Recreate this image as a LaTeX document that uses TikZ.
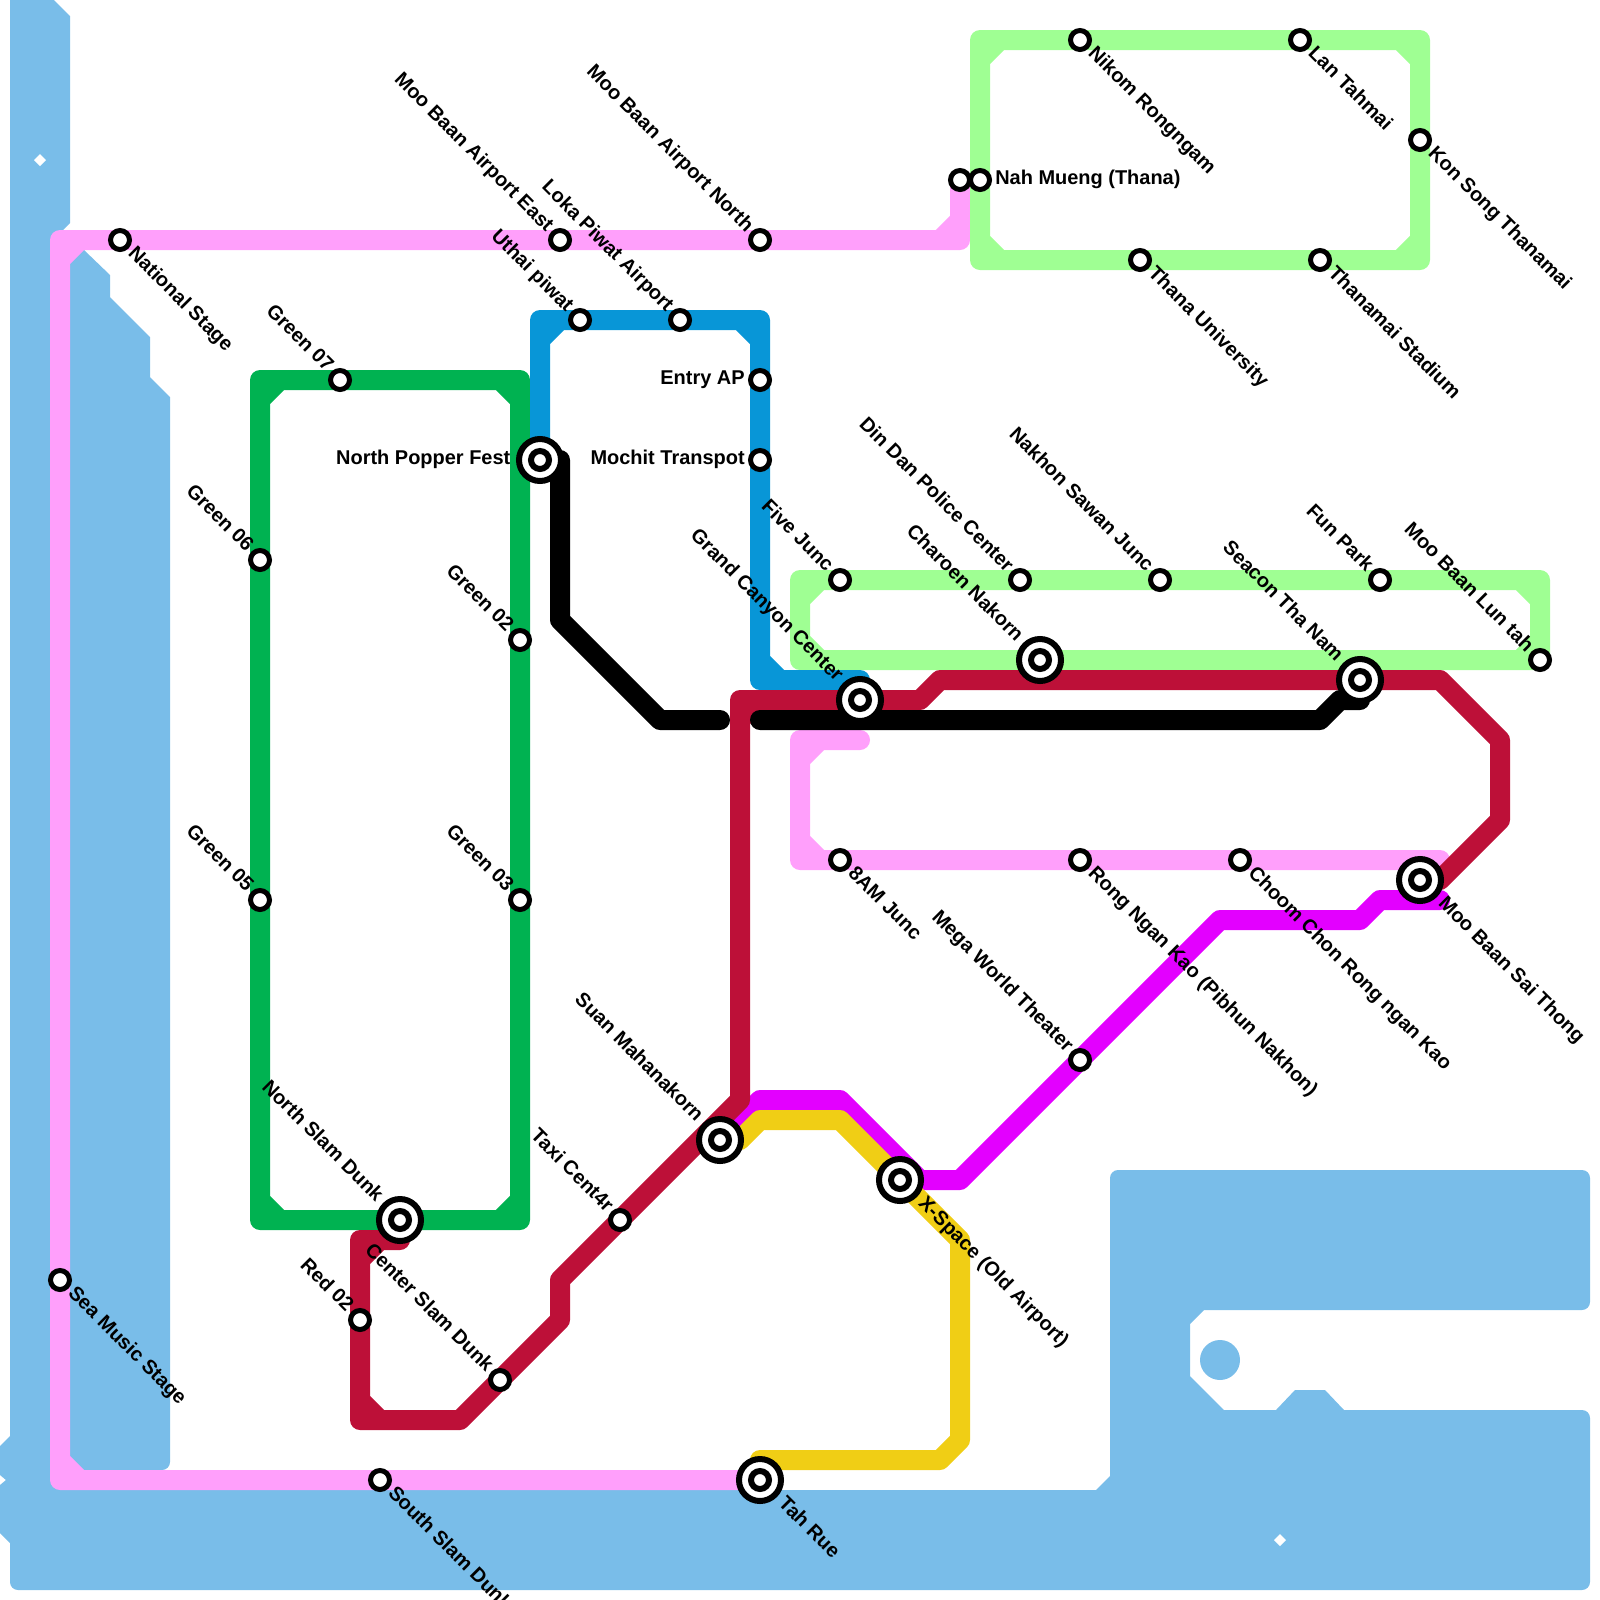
\documentclass[tikz,border=0pt]{standalone}
\usepackage{fontspec}
\setmainfont{Liberation Sans}
\definecolor{metrowater}{HTML}{79BDE9}
\definecolor{metropink}{HTML}{FF9FFB}
\definecolor{metrolime}{HTML}{9FFF93}
\definecolor{metrogreen}{HTML}{00B251}
\definecolor{metroblue}{HTML}{0896D7}
\definecolor{metrored}{HTML}{BD1038}
\definecolor{metroyellow}{HTML}{F0CE15}
\definecolor{metromagenta}{HTML}{E300FF}
\begin{document}
\begin{tikzpicture}[
    x=0.5cm, y=-0.5cm,
    every node/.style={font=\bfseries\fontsize{14.2}{16}\selectfont},
    ln/.style={line width=5mm, line cap=round, line join=round},
    water/.style={fill=metrowater},
    soft/.style={rounded corners=2mm},
    stn/.style={circle, draw=black, fill=white, line width=1.25mm, inner sep=0pt, minimum size=4.75mm},
    hub/.style={circle, draw=black, fill=white, line width=1.5mm, inner sep=0pt, outer sep=1.35mm, minimum size=10.5mm},
    core/.style={stn, line width=1.5mm, minimum size=4.5mm},
    lbl/.style={inner xsep=0.75mm, inner ysep=0pt, text height=.9em, text depth=.2em},
    lble/.style={lbl, anchor=west},
    lblw/.style={lbl, anchor=east},
    lblse/.style={lbl, anchor=west, rotate=-45},
    lblnw/.style={lbl, anchor=east, rotate=-45},
  ]

  \clip (0,0) rectangle (80,80);

  \coordinate (NAT) at (6,12);
  \coordinate (SEA) at (3,64);
  \coordinate (SSD) at (19,74);
  \coordinate (TAH) at (38,74);
  \coordinate (G07) at (17,19);
  \coordinate (G06) at (13,28);
  \coordinate (G05) at (13,45);
  \coordinate (G02) at (26,32);
  \coordinate (G03) at (26,45);
  \coordinate (NPF) at (27,23);
  \coordinate (NSD) at (20,61);
  \coordinate (R02) at (18,66);
  \coordinate (CSD) at (25,69);
  \coordinate (TAX) at (31,61);
  \coordinate (SUA) at (36,57);
  \coordinate (XSP) at (45,59);
  \coordinate (MEG) at (54,53);
  \coordinate (SAI) at (71,44);
  \coordinate (CHO) at (62,43);
  \coordinate (RON) at (54,43);
  \coordinate (EAM) at (42,43);
  \coordinate (GCC) at (43,35);
  \coordinate (FIV) at (42,29);
  \coordinate (CHA) at (52,33);
  \coordinate (DIN) at (51,29);
  \coordinate (NAK) at (58,29);
  \coordinate (SEC) at (68,34);
  \coordinate (FUN) at (69,29);
  \coordinate (LUN) at (77,33);
  \coordinate (NMP) at (48,9);
  \coordinate (NMU) at (49,9);
  \coordinate (NIK) at (54,2);
  \coordinate (LAN) at (65,2);
  \coordinate (KON) at (71,7);
  \coordinate (THS) at (66,13);
  \coordinate (THU) at (57,13);
  \coordinate (MAE) at (28,12);
  \coordinate (MAN) at (38,12);
  \coordinate (UTH) at (29,16);
  \coordinate (LOK) at (34,16);
  \coordinate (ENT) at (38,19);
  \coordinate (MOC) at (38,23);

  \path[water] (0.5,0) -- (2.7,0) -- (3.5,0.8) -- (3.5,11.15) -- (3.15,11.5) -- (3.15,12.3) -- (4.2,12.5)
    -- (5.5,13.75) -- (5.5,14.85) -- (7.5,16.85) -- (7.5,18.85) -- (8.5,19.85)
    [soft] -- (8.5,73.5) [sharp corners] -- (3,73.5) -- (3,74.5) -- (54.8,74.5) -- (55.5,73.8)
    [soft] -- (55.5,58.5) -- (79.5,58.5) -- (79.5,65.5) [sharp corners] -- (60.2,65.5)
    -- (59.5,66.2) -- (59.5,68.8) -- (61.2,70.5) -- (63.8,70.5) -- (64.75,69.5) -- (66.25,69.5)
    -- (67.2,70.5) [soft] -- (79.5,70.5) -- (79.5,79.5) -- (0.5,79.5) [sharp corners] -- (0.5,77.15)
    -- (0,76.65) -- (0,74.25) -- (0.3,74) -- (0,73.75) -- (0,72.3) -- (0.5,71.8) -- cycle;
  \fill[metrowater] (61,68) circle (1);
  \fill[white] (2,7.7) -- (2.3,8) -- (2,8.3) -- (1.7,8) -- cycle;
  \fill[white] (64,76.7) -- (64.3,77) -- (64,77.3) -- (63.7,77) -- cycle;

  \draw[ln, metropink] (NMP) -- (48,12) -- (MAN) -- (MAE) -- (NAT) -- (3,12) -- (SEA) -- (3,74) -- (SSD) -- (TAH)
    (47,12) -- (48,11) (3,13) -- (4,12) (3,73) -- (4,74);
  \draw[ln, metropink] (43,37) -- (40,37) -- (40,43) -- (EAM) -- (RON) -- (CHO) -- (72,43)
    (40,38) -- (41,37) (40,42) -- (41,43);
  \draw[ln, metrolime] (49,2) -- (NIK) -- (LAN) -- (71,2) -- (KON) -- (71,13) -- (THS) -- (THU) -- (49,13) -- cycle
    (49,3) -- (50,2) (70,2) -- (71,3) (71,12) -- (70,13) (50,13) -- (49,12);
  \draw[ln, metrolime] (40,29) -- (FIV) -- (DIN) -- (NAK) -- (FUN) -- (77,29) -- (LUN) -- (CHA) -- (40,33) -- cycle
    (40,30) -- (41,29) (76,29) -- (77,30) (77,32) -- (76,33) (41,33) -- (40,32);
  \draw[ln, metrogreen] (13,19) -- (G07) -- (26,19) -- (G02) -- (G03) -- (26,61) -- (NSD) -- (13,61) -- (G05) -- (G06) -- cycle
    (13,20) -- (14,19) (25,19) -- (26,20) (26,60) -- (25,61) (14,61) -- (13,60);
  \draw[ln, metroblue] (NPF) -- (27,16) -- (UTH) -- (LOK) -- (38,16) -- (ENT) -- (MOC) -- (38,34) -- (43,34)
    (27,17) -- (28,16) (37,16) -- (38,17) (38,33) -- (39,34);
  \draw[ln, metromagenta] (SUA) -- (38,55) -- (42,55) -- (46,59) -- (48,59) -- (MEG) -- (61,46) -- (68,46)
    -- (69,45) -- (72,45);
  \draw[ln, metroyellow] (SUA) -- (37,57) -- (38,56) -- (42,56) -- (XSP) -- (48,62) -- (48,72) -- (47,73) -- (38,73);
  \draw[ln, metrored] (20,62) -- (18,62) -- (R02) -- (18,71) -- (23,71) -- (CSD) -- (28,66) -- (28,64) -- (TAX)
    -- (37,55) -- (37,35) -- (GCC) -- (46,35) -- (47,34) -- (SEC) -- (72,34) -- (75,37) -- (75,41)
    -- (72,44) -- (SAI)
    (18,63) -- (19,62) (18,70) -- (19,71) (37,36) -- (38,35);
  \draw[ln, black] (28,23) -- (28,31) -- (33,36) -- (36,36);
  \draw[ln, black] (38,36) -- (66,36) -- (67,35) -- (68,35);

  \node[stn] (NATn) at (NAT) {};
  \node[lblse] (NATl) at (NATn.-45) {National Stage};
  \node[stn] (SEAn) at (SEA) {};
  \node[lblse] (SEAl) at (SEAn.-45) {Sea Music Stage};
  \node[stn] (SSDn) at (SSD) {};
  \node[lblse] (SSDl) at (SSDn.-45) {South Slam Dunk};
  \node[hub] (TAHn) at (TAH) {};
  \node[core] (TAHi) at (TAH) {};
  \node[lblse] (TAHl) at (TAHn.-45) {Tah Rue};

  \node[stn] (G07n) at (G07) {};
  \node[lblnw] (G07l) at (G07n.135) {Green 07};
  \node[stn] (G06n) at (G06) {};
  \node[lblnw] (G06l) at (G06n.135) {Green 06};
  \node[stn] (G05n) at (G05) {};
  \node[lblnw] (G05l) at (G05n.135) {Green 05};
  \node[stn] (G02n) at (G02) {};
  \node[lblnw] (G02l) at (G02n.135) {Green 02};
  \node[stn] (G03n) at (G03) {};
  \node[lblnw] (G03l) at (G03n.135) {Green 03};

  \node[hub] (NPFn) at (NPF) {};
  \node[core] (NPFi) at (NPF) {};
  \node[lblw] (NPFl) at (NPFn.west) {North Popper Fest};
  \node[hub] (NSDn) at (NSD) {};
  \node[core] (NSDi) at (NSD) {};
  \node[lblnw] (NSDl) at (NSDn.135) {North Slam Dunk};
  \node[stn] (R02n) at (R02) {};
  \node[lblnw] (R02l) at (R02n.135) {Red 02};
  \node[stn] (CSDn) at (CSD) {};
  \node[lblnw] (CSDl) at (CSDn.135) {Center Slam Dunk};
  \node[stn] (TAXn) at (TAX) {};
  \node[lblnw] (TAXl) at (TAXn.135) {Taxi Cent4r};
  \node[hub] (SUAn) at (SUA) {};
  \node[core] (SUAi) at (SUA) {};
  \node[lblnw] (SUAl) at (SUAn.135) {Suan Mahanakorn};
  \node[hub] (XSPn) at (XSP) {};
  \node[core] (XSPi) at (XSP) {};
  \node[lblse] (XSPl) at (XSPn.-45) {X-Space (Old Airport)};
  \node[stn] (MEGn) at (MEG) {};
  \node[lblnw] (MEGl) at (MEGn.135) {Mega World Theater};

  \node[hub] (SAIn) at (SAI) {};
  \node[core] (SAIi) at (SAI) {};
  \node[lblse] (SAIl) at (SAIn.-45) {Moo Baan Sai Thong};
  \node[stn] (CHOn) at (CHO) {};
  \node[lblse] (CHOl) at (CHOn.-45) {Choom Chon Rong ngan Kao};
  \node[stn] (RONn) at (RON) {};
  \node[lblse] (RONl) at (RONn.-45) {Rong Ngan Kao (Pibhun Nakhon)};
  \node[stn] (EAMn) at (EAM) {};
  \node[lblse] (EAMl) at (EAMn.-45) {8AM Junc};

  \node[hub] (GCCn) at (GCC) {};
  \node[core] (GCCi) at (GCC) {};
  \node[lblnw] (GCCl) at (GCCn.135) {Grand Canyon Center};
  \node[stn] (FIVn) at (FIV) {};
  \node[lblnw] (FIVl) at (FIVn.135) {Five Junc};
  \node[hub] (CHAn) at (CHA) {};
  \node[core] (CHAi) at (CHA) {};
  \node[lblnw] (CHAl) at (CHAn.135) {Charoen Nakorn};
  \node[stn] (DINn) at (DIN) {};
  \node[lblnw] (DINl) at (DINn.135) {Din Dan Police Center};
  \node[stn] (NAKn) at (NAK) {};
  \node[lblnw] (NAKl) at (NAKn.135) {Nakhon Sawan Junc};
  \node[hub] (SECn) at (SEC) {};
  \node[core] (SECi) at (SEC) {};
  \node[lblnw] (SECl) at (SECn.135) {Seacon Tha Nam};
  \node[stn] (FUNn) at (FUN) {};
  \node[lblnw] (FUNl) at (FUNn.135) {Fun Park};
  \node[stn] (LUNn) at (LUN) {};
  \node[lblnw] (LUNl) at (LUNn.135) {Moo Baan Lun tah};

  \node[stn] (NMPn) at (NMP) {};
  \node[stn] (NMUn) at (NMU) {};
  \node[lble] (NMUl) at (NMUn.east) {Nah Mueng (Thana)};
  \node[stn] (NIKn) at (NIK) {};
  \node[lblse] (NIKl) at (NIKn.-45) {Nikom Rongngam};
  \node[stn] (LANn) at (LAN) {};
  \node[lblse] (LANl) at (LANn.-45) {Lan Tahmai};
  \node[stn] (KONn) at (KON) {};
  \node[lblse] (KONl) at (KONn.-45) {Kon Song Thanamai};
  \node[stn] (THSn) at (THS) {};
  \node[lblse] (THSl) at (THSn.-45) {Thanamai Stadium};
  \node[stn] (THUn) at (THU) {};
  \node[lblse] (THUl) at (THUn.-45) {Thana University};

  \node[stn] (MAEn) at (MAE) {};
  \node[lblnw] (MAEl) at (MAEn.135) {Moo Baan Airport East};
  \node[stn] (MANn) at (MAN) {};
  \node[lblnw] (MANl) at (MANn.135) {Moo Baan Airport North};
  \node[stn] (UTHn) at (UTH) {};
  \node[lblnw] (UTHl) at (UTHn.135) {Uthai piwat};
  \node[stn] (LOKn) at (LOK) {};
  \node[lblnw] (LOKl) at (LOKn.135) {Loka Piwat Airport};
  \node[stn] (ENTn) at (ENT) {};
  \node[lblw] (ENTl) at (ENTn.west) {Entry AP};
  \node[stn] (MOCn) at (MOC) {};
  \node[lblw] (MOCl) at (MOCn.west) {Mochit Transpot};

\end{tikzpicture}
\end{document}
